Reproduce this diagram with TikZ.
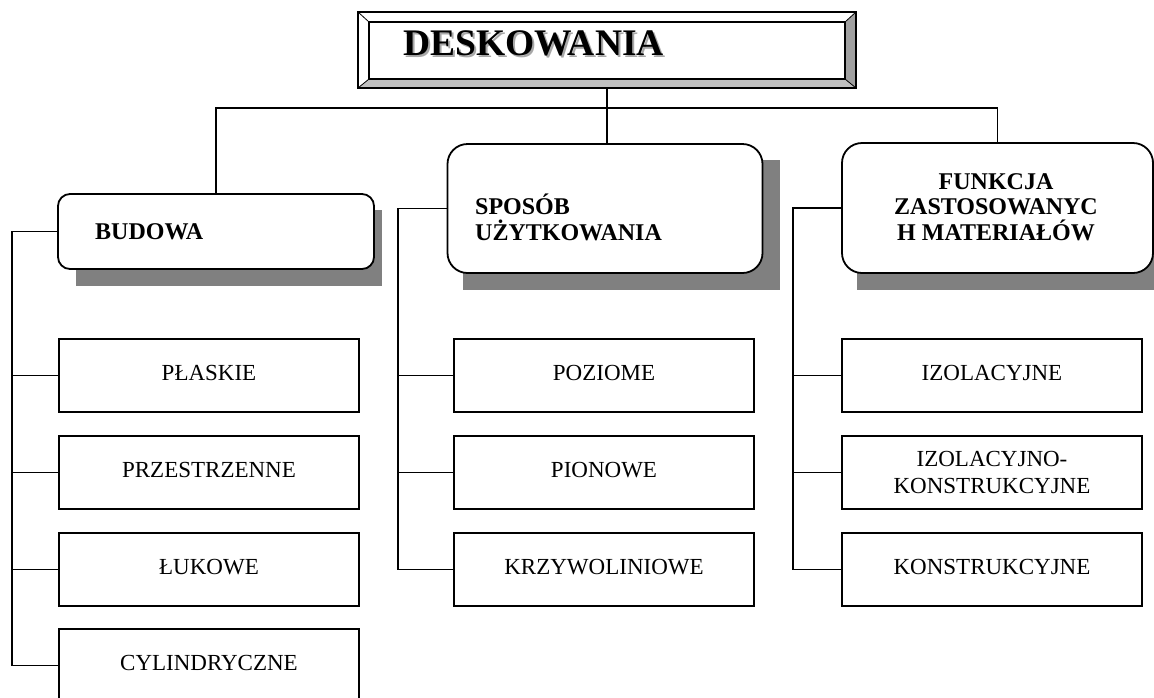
\documentclass[tikz,border=0pt]{standalone}
\usepackage{fontspec}
\setmainfont{Liberation Serif}
\definecolor{shade}{HTML}{808080}
\definecolor{bevellow}{HTML}{C0C0C0}
\definecolor{bevelright}{HTML}{A0A0A0}
\definecolor{txtshadow}{HTML}{A8A8A8}
\newcommand\myCline[1]{\hbox to 0pt{\hss #1\hss}}
\newcommand\myLline[1]{\hbox{#1}}
\newcommand\stackat[2]{\vtop{\baselineskip=#1\relax #2}}
\begin{document}
\begin{tikzpicture}[x=1pt,y=-1pt,
  conn/.style={line width=1.8pt},
  rbox/.style={draw, line width=1.8pt, fill=white, inner sep=0pt},
  cbox/.style={draw, line width=1.8pt, fill=white, minimum width=300pt,
    minimum height=73pt, inner sep=0pt, align=center,
    font=\fontsize{23}{27}\selectfont},
  one/.style={text height=16pt, text depth=6pt},
  head/.style={inner sep=0pt, font=\fontsize{24}{26}\selectfont\bfseries},
  shadowbox/.style={fill=shade}]
\useasboundingbox (0,0) rectangle (1154,697);

% ---- title bevel box
\fill[white] (358,12) rectangle (856,88);
\fill[bevellow] (358,88) -- (369,79) -- (845,79) -- (856,88) -- cycle;
\fill[bevelright] (856,12) -- (845,22) -- (845,79) -- (856,88) -- cycle;
\draw[line width=0.8pt] (358,12) -- (369,22) (856,12) -- (845,22)
  (358,88) -- (369,79) (856,88) -- (845,79);
\node[draw, line width=1.8pt, minimum width=498pt, minimum height=76pt,
  inner sep=0pt] (title) at (607,50) {};
\draw[line width=1.8pt] (369,22) rectangle (845,79);
\node[anchor=base, inner sep=0pt, text=txtshadow,
  font=\fontsize{37.5}{40}\selectfont\bfseries] (titleshadow) at (535.5,57) {DESKOWANIA};
\node[anchor=base, inner sep=0pt,
  font=\fontsize{37.5}{40}\selectfont\bfseries] (titletext) at (533.5,55) {DESKOWANIA};

% ---- shadows of rounded boxes
\fill[shadowbox] (76,210) rectangle (382,286);
\fill[shadowbox] (463,160) rectangle (780,290);
\fill[shadowbox] (857,160) rectangle (1170,290);

% ---- rounded category boxes
\node[rbox, rounded corners=12pt, minimum width=316pt, minimum height=75pt]
  (budowa) at (216,231.5) {};
\node[rbox, rounded corners=20pt, minimum width=315pt, minimum height=129pt]
  (sposob) at (605,208.5) {};
\node[rbox, rounded corners=20pt, minimum width=311pt, minimum height=130pt]
  (funkcja) at (997.5,208) {};

\node[head, anchor=base west] (budowatext) at (95,239) {BUDOWA};
\node[head, anchor=base west] (sposobtext) at (475,214)
  {\stackat{26pt}{\myLline{SPOSÓB}\myLline{UŻYTKOWANIA}}};
\node[head, anchor=base] (funkcjatext) at (996,189)
  {\stackat{25.5pt}{\myCline{FUNKCJA}\myCline{ZASTOSOWANYC}\myCline{H MATERIAŁÓW}}};

% ---- child boxes
\node[cbox, one] (plaskie) at (209,375.5) {PŁASKIE};
\node[cbox, one] (przestrzenne) at (209,472.5) {PRZESTRZENNE};
\node[cbox, one] (lukowe) at (209,569.5) {ŁUKOWE};
\node[cbox, one] (cylindryczne) at (209,665.5) {CYLINDRYCZNE};

\node[cbox, one] (poziome) at (604,375.5) {POZIOME};
\node[cbox, one] (pionowe) at (604,472.5) {PIONOWE};
\node[cbox, one] (krzywoliniowe) at (604,569.5) {KRZYWOLINIOWE};

\node[cbox, one] (izolacyjne) at (992,375.5) {IZOLACYJNE};
\node[cbox] (izokon) at (992,472.5) {IZOLACYJNO-\\KONSTRUKCYJNE};
\node[cbox, one] (konstrukcyjne) at (992,569.5) {KONSTRUKCYJNE};

% ---- connectors
\coordinate (bus) at (607,108);
\coordinate (spineL) at (12,0);
\coordinate (spineM) at (398,0);
\coordinate (spineR) at (793,0);

\draw[conn] (title.south) -- (bus);
\draw[conn] (bus) -| (budowa.north);
\draw[conn] (bus) -| (funkcja.north);
\draw[conn] (bus) -- (bus |- sposob.north);

\draw[conn] (budowa.west) -| (cylindryczne.west -| spineL) -- (cylindryczne.west);
\draw[conn] (plaskie.west) -- (plaskie.west -| spineL);
\draw[conn] (przestrzenne.west) -- (przestrzenne.west -| spineL);
\draw[conn] (lukowe.west) -- (lukowe.west -| spineL);

\draw[conn] (sposob.west) -| (krzywoliniowe.west -| spineM) -- (krzywoliniowe.west);
\draw[conn] (poziome.west) -- (poziome.west -| spineM);
\draw[conn] (pionowe.west) -- (pionowe.west -| spineM);

\draw[conn] (funkcja.west) -| (konstrukcyjne.west -| spineR) -- (konstrukcyjne.west);
\draw[conn] (izolacyjne.west) -- (izolacyjne.west -| spineR);
\draw[conn] (izokon.west) -- (izokon.west -| spineR);
\end{tikzpicture}
\end{document}
